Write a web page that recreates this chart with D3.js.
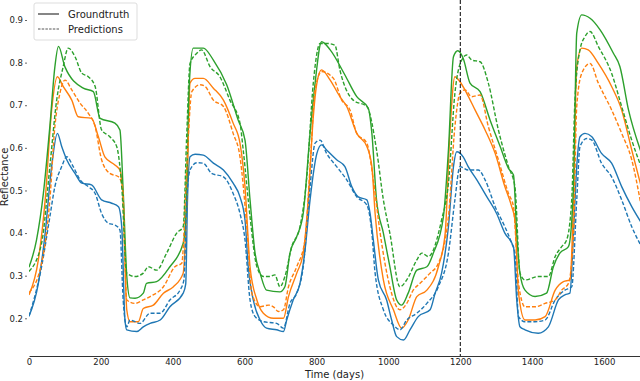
<!DOCTYPE html>
<html>
<head>
<meta charset="utf-8">
<script src="https://cdn.jsdelivr.net/npm/d3@7"></script>
<style>
  body { margin: 0; background: #fff; }
  svg { display: block; font-family: "DejaVu Sans", sans-serif; }
</style>
</head>
<body>
<script>
// [day, reflectance]
const blueTrue = [[0,0.205],[26,0.282],[45,0.40],[63,0.556],[79,0.634],[91,0.603],[105,0.572],[128,0.54],[147,0.517],[174,0.513],[202,0.478],[230,0.47],[249,0.462],[258,0.415],[267,0.196],[272,0.173],[300,0.169],[318,0.18],[337,0.188],[365,0.196],[392,0.227],[429,0.259],[436,0.28],[441,0.478],[448,0.579],[462,0.585],[485,0.583],[513,0.564],[541,0.548],[568,0.517],[587,0.485],[601,0.431],[610,0.321],[624,0.243],[643,0.196],[661,0.177],[689,0.173],[708,0.169],[717,0.196],[735,0.243],[754,0.282],[768,0.36],[782,0.478],[801,0.587],[814,0.607],[828,0.595],[856,0.572],[879,0.556],[898,0.509],[916,0.485],[940,0.478],[949,0.446],[958,0.384],[972,0.29],[995,0.243],[1009,0.196],[1023,0.157],[1042,0.149],[1060,0.173],[1083,0.204],[1116,0.22],[1130,0.259],[1148,0.306],[1167,0.415],[1181,0.556],[1190,0.591],[1208,0.579],[1222,0.556],[1246,0.525],[1274,0.485],[1301,0.446],[1324,0.40],[1348,0.368],[1357,0.243],[1366,0.18],[1380,0.173],[1417,0.165],[1445,0.18],[1473,0.243],[1491,0.255],[1505,0.259],[1515,0.40],[1524,0.556],[1533,0.626],[1547,0.634],[1566,0.626],[1593,0.587],[1621,0.564],[1649,0.509],[1677,0.462],[1703,0.425]];

const bluePred = [[0,0.205],[35,0.321],[58,0.438],[72,0.509],[91,0.556],[105,0.579],[123,0.556],[142,0.525],[165,0.509],[184,0.493],[202,0.446],[221,0.423],[239,0.419],[253,0.407],[262,0.243],[272,0.18],[281,0.196],[309,0.188],[337,0.212],[365,0.212],[392,0.243],[420,0.266],[431,0.29],[439,0.478],[448,0.548],[467,0.565],[485,0.564],[508,0.54],[541,0.532],[568,0.493],[587,0.446],[601,0.384],[615,0.243],[629,0.204],[652,0.192],[689,0.188],[708,0.177],[726,0.235],[745,0.259],[763,0.321],[782,0.509],[796,0.611],[810,0.618],[828,0.587],[856,0.556],[884,0.525],[912,0.485],[940,0.466],[954,0.40],[963,0.306],[986,0.22],[1014,0.184],[1032,0.173],[1051,0.196],[1079,0.212],[1107,0.235],[1139,0.274],[1167,0.353],[1185,0.478],[1199,0.556],[1222,0.548],[1250,0.548],[1269,0.525],[1297,0.462],[1324,0.415],[1343,0.376],[1352,0.353],[1362,0.204],[1380,0.192],[1408,0.192],[1436,0.196],[1464,0.243],[1491,0.266],[1510,0.274],[1524,0.478],[1533,0.603],[1552,0.622],[1566,0.618],[1593,0.564],[1621,0.532],[1649,0.478],[1677,0.415],[1703,0.37]];

const orangeTrue = [[0,0.255],[26,0.337],[45,0.478],[63,0.689],[79,0.767],[95,0.744],[119,0.712],[137,0.673],[174,0.669],[193,0.626],[211,0.579],[239,0.56],[253,0.548],[262,0.478],[272,0.22],[281,0.192],[304,0.192],[318,0.223],[346,0.231],[374,0.259],[402,0.274],[429,0.306],[439,0.478],[448,0.752],[462,0.763],[485,0.763],[513,0.74],[541,0.712],[568,0.658],[587,0.611],[601,0.509],[615,0.321],[634,0.243],[652,0.212],[680,0.20],[708,0.20],[722,0.251],[745,0.306],[763,0.353],[777,0.478],[791,0.673],[801,0.752],[814,0.783],[838,0.759],[865,0.72],[884,0.697],[912,0.634],[940,0.603],[954,0.556],[963,0.446],[986,0.29],[1014,0.22],[1037,0.177],[1055,0.196],[1079,0.251],[1107,0.266],[1139,0.321],[1158,0.40],[1171,0.634],[1185,0.767],[1199,0.755],[1218,0.728],[1241,0.689],[1269,0.642],[1297,0.587],[1324,0.509],[1343,0.462],[1352,0.431],[1362,0.259],[1380,0.196],[1408,0.196],[1436,0.204],[1464,0.266],[1487,0.286],[1505,0.29],[1515,0.478],[1524,0.79],[1538,0.834],[1556,0.83],[1584,0.798],[1621,0.744],[1649,0.689],[1677,0.595],[1703,0.51]];

const orangePred = [[0,0.26],[35,0.329],[58,0.478],[72,0.65],[86,0.728],[100,0.759],[119,0.736],[142,0.705],[165,0.681],[184,0.65],[202,0.572],[225,0.54],[249,0.532],[260,0.509],[272,0.243],[295,0.235],[318,0.243],[337,0.251],[374,0.274],[406,0.321],[425,0.329],[439,0.556],[453,0.732],[476,0.748],[490,0.744],[513,0.712],[541,0.697],[568,0.634],[587,0.579],[606,0.415],[620,0.259],[643,0.227],[666,0.231],[680,0.227],[694,0.216],[708,0.22],[722,0.274],[745,0.321],[768,0.384],[782,0.556],[796,0.736],[814,0.779],[847,0.763],[870,0.712],[893,0.689],[912,0.634],[940,0.611],[958,0.525],[977,0.40],[1004,0.274],[1032,0.22],[1051,0.235],[1069,0.266],[1088,0.282],[1116,0.306],[1139,0.329],[1167,0.438],[1185,0.65],[1199,0.728],[1213,0.736],[1232,0.72],[1255,0.724],[1278,0.65],[1306,0.572],[1334,0.493],[1348,0.462],[1362,0.282],[1380,0.227],[1408,0.227],[1436,0.235],[1464,0.243],[1482,0.266],[1501,0.282],[1515,0.40],[1524,0.697],[1538,0.775],[1561,0.798],[1584,0.752],[1621,0.689],[1649,0.634],[1677,0.572],[1703,0.465]];

const greenTrue = [[0,0.32],[21,0.384],[40,0.493],[58,0.65],[72,0.79],[82,0.838],[100,0.79],[151,0.74],[179,0.732],[198,0.669],[239,0.658],[253,0.642],[262,0.50],[272,0.30],[281,0.248],[295,0.247],[318,0.259],[327,0.282],[355,0.286],[392,0.321],[429,0.376],[437,0.45],[446,0.75],[457,0.834],[485,0.834],[513,0.806],[550,0.748],[582,0.665],[601,0.618],[615,0.478],[629,0.353],[643,0.306],[661,0.266],[698,0.262],[712,0.274],[726,0.353],[745,0.392],[763,0.446],[782,0.634],[796,0.752],[814,0.849],[838,0.83],[879,0.771],[912,0.72],[944,0.693],[954,0.634],[967,0.478],[986,0.40],[1004,0.321],[1023,0.243],[1037,0.231],[1055,0.259],[1079,0.313],[1107,0.321],[1125,0.353],[1153,0.438],[1167,0.595],[1181,0.814],[1193,0.828],[1208,0.81],[1227,0.752],[1255,0.732],[1283,0.665],[1311,0.603],[1334,0.552],[1348,0.536],[1357,0.40],[1366,0.306],[1380,0.266],[1408,0.251],[1440,0.259],[1459,0.321],[1477,0.353],[1501,0.368],[1515,0.509],[1524,0.869],[1538,0.912],[1561,0.904],[1589,0.877],[1626,0.822],[1644,0.791],[1668,0.689],[1703,0.59]];

const greenPred = [[0,0.31],[35,0.376],[58,0.556],[77,0.712],[95,0.79],[109,0.834],[128,0.814],[147,0.775],[165,0.767],[184,0.744],[202,0.642],[225,0.626],[244,0.603],[258,0.509],[272,0.306],[295,0.298],[318,0.306],[332,0.321],[355,0.313],[383,0.353],[411,0.40],[429,0.415],[439,0.634],[448,0.798],[467,0.822],[480,0.83],[504,0.79],[531,0.767],[559,0.712],[587,0.658],[596,0.595],[615,0.438],[634,0.321],[652,0.298],[670,0.298],[684,0.302],[698,0.274],[712,0.298],[731,0.368],[754,0.415],[773,0.532],[791,0.752],[810,0.845],[828,0.845],[851,0.841],[865,0.783],[902,0.712],[940,0.697],[967,0.595],[986,0.478],[1004,0.40],[1032,0.274],[1051,0.29],[1079,0.337],[1093,0.353],[1111,0.345],[1148,0.431],[1167,0.517],[1185,0.728],[1204,0.806],[1218,0.818],[1232,0.806],[1255,0.802],[1278,0.752],[1306,0.642],[1334,0.556],[1352,0.509],[1366,0.306],[1380,0.29],[1417,0.298],[1445,0.298],[1464,0.345],[1482,0.368],[1496,0.384],[1510,0.478],[1519,0.712],[1533,0.83],[1547,0.861],[1561,0.873],[1584,0.838],[1621,0.775],[1649,0.697],[1677,0.618],[1703,0.556]];

const xTicks = [0, 200, 400, 600, 800, 1000, 1200, 1400, 1600];
const yTicks = [0.2, 0.3, 0.4, 0.5, 0.6, 0.7, 0.8, 0.9];
const splitDay = 1200;
const legendLabels = ['Groundtruth', 'Predictions'];

const width = 640, height = 381;
const x = d3.scaleLinear().domain([0, 1700]).range([29, 640]);
const y = d3.scaleLinear().domain([0.2, 0.9]).range([318.3, 20]);
const axisY = 356;

const svg = d3.select('body').append('svg')
    .attr('width', width)
    .attr('height', height);

svg.append('clipPath').attr('id', 'plot')
  .append('rect').attr('x', 29).attr('y', 0).attr('width', 611).attr('height', axisY);

const line = d3.line()
    .x(d => x(d[0]))
    .y(d => y(d[1]))
    .curve(d3.curveMonotoneX);

const series = [
  { data: blueTrue, color: '#1f77b4', dash: null },
  { data: orangeTrue, color: '#ff7f0e', dash: null },
  { data: greenTrue, color: '#2ca02c', dash: null },
  { data: bluePred, color: '#1f77b4', dash: '4,2' },
  { data: orangePred, color: '#ff7f0e', dash: '4,2' },
  { data: greenPred, color: '#2ca02c', dash: '4,2' },
];

const plot = svg.append('g').attr('clip-path', 'url(#plot)');
series.forEach(s => {
  plot.append('path')
      .datum(s.data)
      .attr('d', line)
      .attr('fill', 'none')
      .attr('stroke', s.color)
      .attr('stroke-width', 1.4)
      .attr('stroke-dasharray', s.dash);
});

// train / test split
svg.append('line')
    .attr('x1', x(splitDay)).attr('x2', x(splitDay))
    .attr('y1', 0).attr('y2', axisY)
    .attr('stroke', '#000')
    .attr('stroke-width', 1)
    .attr('stroke-dasharray', '4,2');

// x axis
const gx = svg.append('g')
    .attr('transform', `translate(0,${axisY})`)
    .call(d3.axisBottom(x).tickValues(xTicks).tickSize(0).tickPadding(3).tickFormat(d3.format('d')));
gx.select('.domain').attr('stroke', '#333').attr('stroke-width', 1);
gx.selectAll('text').attr('font-size', 8.5).attr('fill', '#222').attr('font-family', 'DejaVu Sans');

// y axis (no spine)
const gy = svg.append('g')
    .attr('transform', 'translate(27,0)')
    .call(d3.axisLeft(y).tickValues(yTicks).tickSize(2).tickPadding(2).tickFormat(d3.format('.1f')));
gy.select('.domain').remove();
gy.selectAll('line').attr('stroke', '#666');
gy.selectAll('text').attr('font-size', 8.5).attr('fill', '#222').attr('font-family', 'DejaVu Sans');

svg.append('text')
    .attr('x', (29 + 640) / 2).attr('y', 378)
    .attr('text-anchor', 'middle')
    .attr('font-size', 10)
    .attr('fill', '#222')
    .text('Time (days)');

svg.append('text')
    .attr('transform', 'translate(8,177) rotate(-90)')
    .attr('text-anchor', 'middle')
    .attr('font-size', 10)
    .attr('fill', '#222')
    .text('Reflectance');

// legend
const legend = svg.append('g');
legend.append('rect')
    .attr('x', 34).attr('y', 3).attr('width', 103).attr('height', 37)
    .attr('rx', 2)
    .attr('fill', '#fff').attr('fill-opacity', 0.8)
    .attr('stroke', '#ddd');
legendLabels.forEach((label, i) => {
  const ly = 14 + i * 15;
  legend.append('line')
      .attr('x1', 38).attr('x2', 59).attr('y1', ly).attr('y2', ly)
      .attr('stroke', '#444')
      .attr('stroke-width', i ? 0.9 : 1.3)
      .attr('stroke-dasharray', i ? '2.5,1.2' : null);
  legend.append('text')
      .attr('x', 68).attr('y', ly + 3.5)
      .attr('font-size', 10)
      .attr('fill', '#222')
      .text(label);
});
</script>
</body>
</html>
